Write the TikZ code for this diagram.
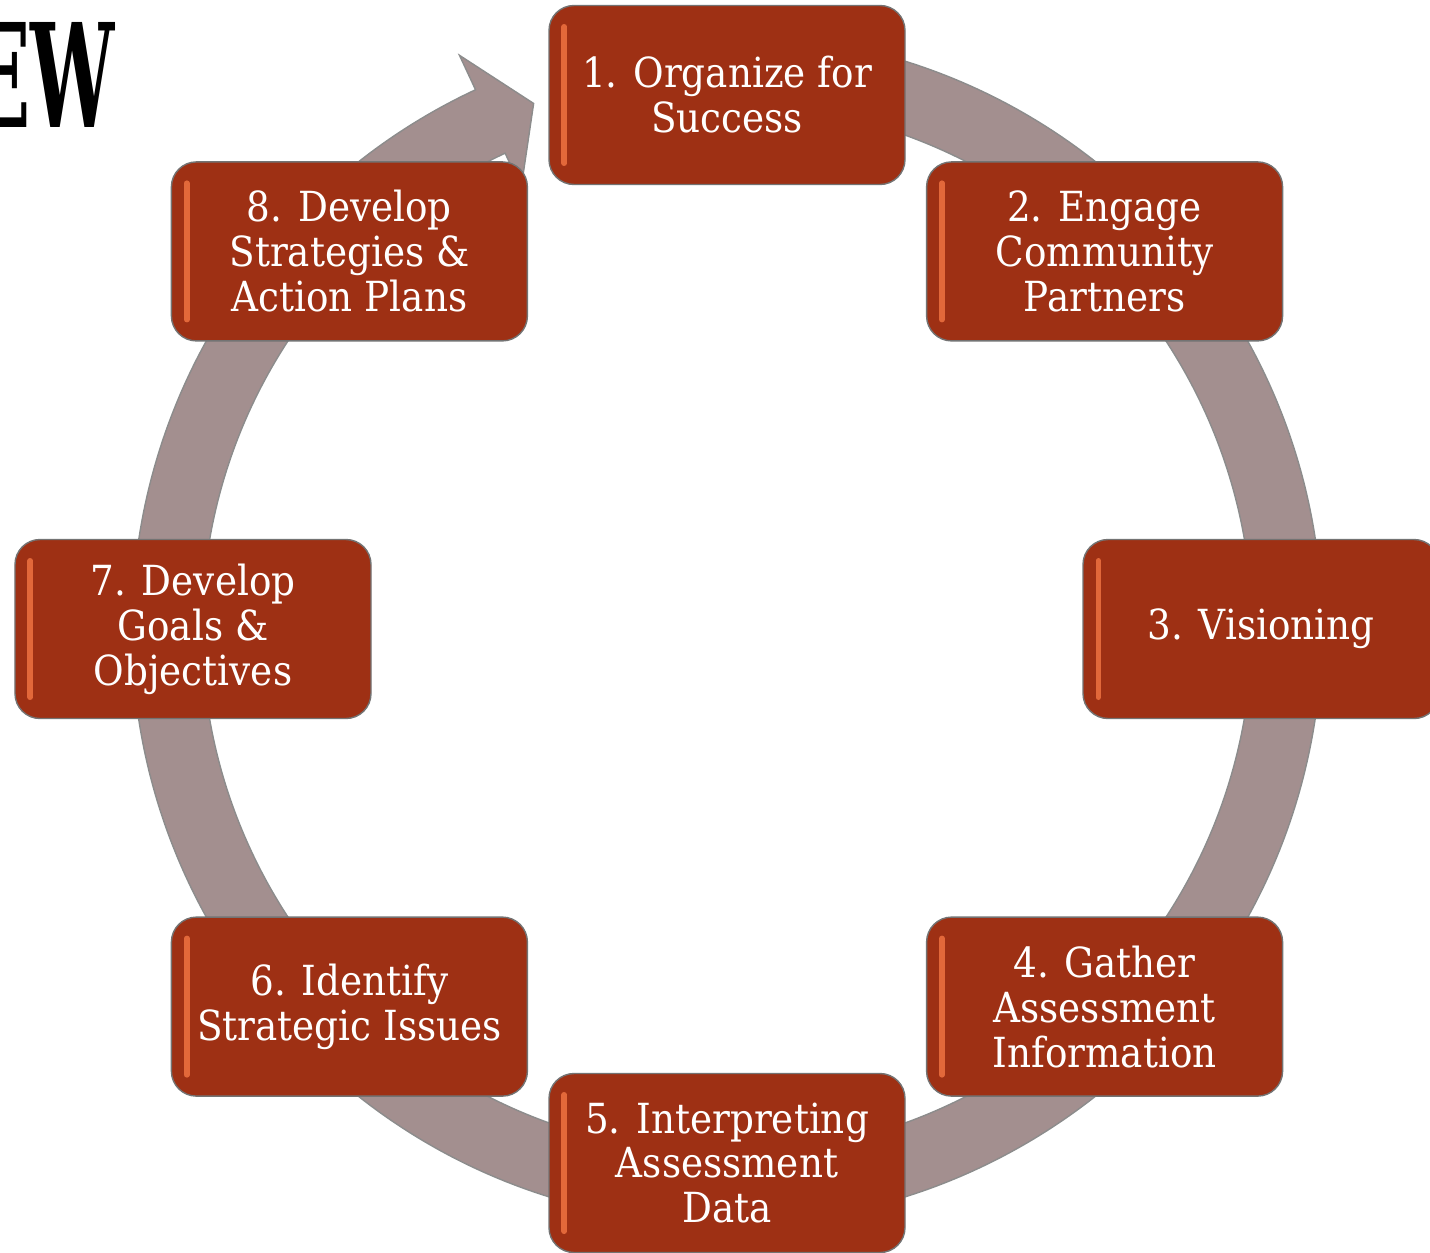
\documentclass[tikz,border=0pt]{standalone}
\usepackage{fontspec}
\usepackage{graphicx}
\setmainfont[FakeStretch=0.9]{DejaVu Serif}
\newfontfamily\titlefont[FakeStretch=0.52]{DejaVu Serif}

\definecolor{boxred}{RGB}{158,48,20}
\definecolor{boxglow}{RGB}{226,104,58}
\definecolor{ringgrey}{RGB}{163,143,143}

\tikzset{
  phase/.style={draw=black!55, line width=0.4pt, fill=boxred, rounded corners=0.25cm,
    minimum width=3.56cm, minimum height=1.79cm, align=center, text=white,
    font=\fontsize{11.8}{12.8}\selectfont},
  glow/.style={boxglow, line width=1.6pt, line cap=round}
}

\begin{document}
\begin{tikzpicture}[scale=1.0,>=stealth]

    \useasboundingbox (-7.27,-6.23) rectangle (7.03,6.29);

    % the partly hidden title
    \node[anchor=east, inner sep=0pt] (title) at (-6.12,5.54)
        {\titlefont\bfseries\fontsize{41}{41}\selectfont EW};

    % cycle arrow behind the boxes
    \fill[ringgrey, draw=black!45, line width=0.4pt]
        (80:5.95) arc[start angle=80, end angle=-245, radius=5.95]
        -- (-245:6.33) -- (-249.8:5.6) -- (-245:4.87) -- (-245:5.25)
        arc[start angle=-245, end angle=80, radius=5.25] -- cycle;

    \foreach \i/\txt in {1/{1. Organize for\\Success},
                         2/{2. Engage\\Community\\Partners},
                         3/{3. Visioning},
                         4/{4. Gather\\Assessment\\Information},
                         5/{5. Interpreting\\Assessment\\Data},
                         6/{6. Identify\\Strategic Issues},
                         7/{7. Develop\\Goals \&\\Objectives},
                         8/{8. Develop\\Strategies \&\\Action Plans}}
    {
        \node[phase] (s\i) at ({90-45*(\i-1)}:5.34) {\txt};
        \draw[glow] ([xshift=0.16cm,yshift=-0.22cm]s\i.north west)
                 -- ([xshift=0.16cm,yshift=0.22cm]s\i.south west);
    }

\end{tikzpicture}
\end{document}
